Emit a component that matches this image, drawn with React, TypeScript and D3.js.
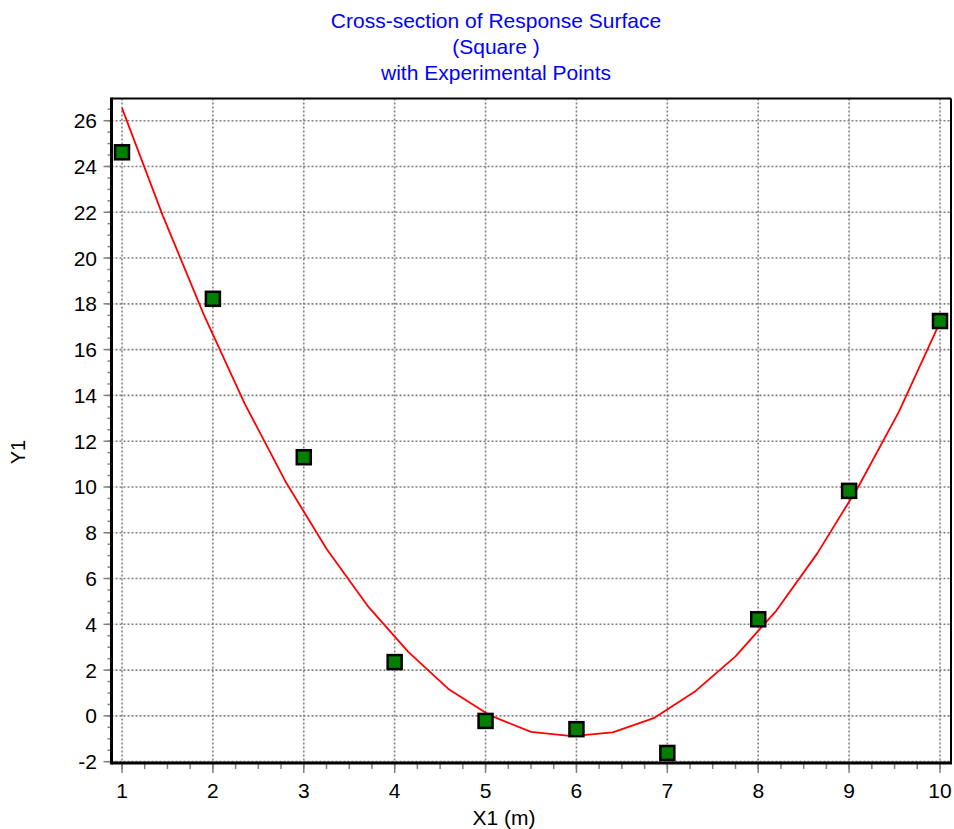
import * as d3 from "d3";

const titleLines = ["Cross-section of Response Surface", "(Square )", "with Experimental Points"];

// experimental points
const pointX = [1, 2, 3, 4, 5, 6, 7, 8, 9, 10];
const pointY = [24.62, 18.22, 11.3, 2.35, -0.22, -0.58, -1.62, 4.22, 9.83, 17.25];

// fitted cross-section, read at the polyline's vertices
const curveX = [1, 1.45, 1.9, 2.35, 2.8, 3.25, 3.7, 4.15, 4.6, 5.05, 5.5, 5.95, 6.4, 6.85, 7.3, 7.75, 8.2, 8.65, 9.1, 9.55, 10];
const curveY = [26.55, 21.84, 17.53, 13.64, 10.23, 7.3, 4.82, 2.8, 1.15, 0.02, -0.7, -0.88, -0.72, -0.1, 1.05, 2.6, 4.6, 7.1, 10.0, 13.3, 17.2];

const xTicks = [1, 2, 3, 4, 5, 6, 7, 8, 9, 10];
const yTicks = [-2, 0, 2, 4, 6, 8, 10, 12, 14, 16, 18, 20, 22, 24, 26];

const FONT = "'Liberation Sans', Arial, sans-serif";

export default function App() {
  const W = 954;
  const H = 829;
  const mg = { top: 98.5, right: 3, bottom: 66, left: 111.5 };
  const bottom = H - mg.bottom;
  const right = W - mg.right;

  const x = d3.scaleLinear([0.8845, 10.121], [mg.left, right]);
  const y = d3.scaleLinear([-2.058, 26.97], [bottom, mg.top]);

  const xMinor = d3.range(0.75, 10.01, 0.25).filter((v) => x(v) > mg.left + 2);
  const yMinor = d3.range(-2, 26.51, 0.5);

  const line = d3
    .line<number>()
    .x((_, i) => x(curveX[i]))
    .y((d) => y(d));

  const sq = 14;

  return (
    <svg
      width={W}
      height={H}
      viewBox={`0 0 ${W} ${H}`}
      style={{ position: "absolute", left: 0, top: 0, background: "#fff" }}
      fontFamily={FONT}
    >
      {titleLines.map((t, i) => (
        <text key={i} x={496} y={28 + i * 26} fontSize="21" fill="#0000FF" textAnchor="middle">
          {t}
        </text>
      ))}

      {/* grid */}
      <g stroke="#808080" strokeWidth={1.6} strokeDasharray="2 2">
        {xTicks.map((t) => (
          <line key={"gx" + t} x1={x(t)} x2={x(t)} y1={mg.top} y2={bottom} />
        ))}
        {yTicks.map((t) => (
          <line key={"gy" + t} x1={mg.left} x2={right} y1={y(t)} y2={y(t)} />
        ))}
      </g>

      {/* minor and major ticks */}
      <g stroke="#808080" strokeWidth={1.5}>
        {xMinor.map((t, i) => (
          <line key={"mx" + i} x1={x(t)} x2={x(t)} y1={bottom} y2={bottom + 6} />
        ))}
        {xTicks.map((t) => (
          <line key={"tx" + t} x1={x(t)} x2={x(t)} y1={bottom} y2={bottom + 10} />
        ))}
        {yMinor.map((t, i) => (
          <line key={"my" + i} x1={mg.left - 4} x2={mg.left} y1={y(t)} y2={y(t)} />
        ))}
        {yTicks.map((t) => (
          <line key={"ty" + t} x1={mg.left - 8} x2={mg.left} y1={y(t)} y2={y(t)} />
        ))}
      </g>

      {/* frame */}
      <line x1={mg.left} x2={right} y1={mg.top} y2={mg.top} stroke="#000" strokeWidth={2} />
      <line x1={right} x2={right} y1={mg.top} y2={bottom} stroke="#000" strokeWidth={2} />
      <line x1={mg.left} x2={mg.left} y1={mg.top - 1} y2={bottom + 1.5} stroke="#000" strokeWidth={3} />
      <line x1={mg.left} x2={right + 1} y1={bottom} y2={bottom} stroke="#000" strokeWidth={3} />

      <path d={line(curveY) ?? ""} fill="none" stroke="#FF0000" strokeWidth={1.8} strokeLinejoin="round" />

      {pointY.map((v, i) => (
        <rect
          key={i}
          x={x(pointX[i]) - sq / 2}
          y={y(v) - sq / 2}
          width={sq}
          height={sq}
          fill="#007F00"
          stroke="#000"
          strokeWidth={2.5}
        />
      ))}

      {xTicks.map((t) => (
        <text key={"lx" + t} x={x(t)} y={798} fontSize="21" textAnchor="middle" fill="#000">
          {t}
        </text>
      ))}
      {yTicks.map((t) => (
        <text key={"ly" + t} x={97} y={y(t) + 7.5} fontSize="21" textAnchor="end" fill="#000">
          {t}
        </text>
      ))}

      <text x={504} y={825} fontSize="21" textAnchor="middle" fill="#000">
        X1 (m)
      </text>
      <text transform="translate(25, 452) rotate(-90)" fontSize="20" textAnchor="middle" fill="#000">
        Y1
      </text>
    </svg>
  );
}
